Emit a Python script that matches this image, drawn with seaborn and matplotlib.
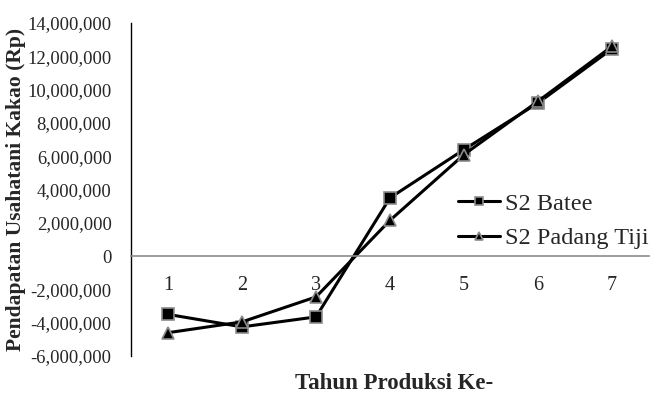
import numpy as np
import pandas as pd
import matplotlib
matplotlib.use("Agg")
import matplotlib.pyplot as plt
import seaborn as sns
from matplotlib.ticker import FuncFormatter

years = [1, 2, 3, 4, 5, 6, 7]
batee = [-3500000, -4250000, -3650000, 3500000, 6400000, 9200000, 12450000]
padang_tiji = [-4600000, -3950000, -2450000, 2150000, 6100000, 9300000, 12600000]
series_names = ["S2 Batee", "S2 Padang Tiji"]
y_ticks = list(range(-6000000, 14000001, 2000000))

sns.set_theme(style="white")
plt.rcParams['font.family'] = ['Liberation Serif', 'DejaVu Serif']

fig = plt.figure(figsize=(6.54, 3.94), dpi=100)
ax = fig.add_axes([0.2003, 0.0964, 0.7921, 0.8452])

df = pd.DataFrame({"Tahun": years * 2,
                   "Pendapatan": batee + padang_tiji,
                   "Lokasi": [series_names[0]] * 7 + [series_names[1]] * 7})

sns.lineplot(data=df, x="Tahun", y="Pendapatan", style="Lokasi",
             markers={series_names[0]: "s", series_names[1]: "^"},
             dashes=False, color="black", linewidth=2.2, markersize=8,
             markeredgecolor="#8c8c8c", markeredgewidth=1.2, ax=ax)

ax.set_xlim(0.5, 7.5)
ax.set_ylim(-6000000, 14000000)
ax.set_yticks(y_ticks)
ax.yaxis.set_major_formatter(FuncFormatter(lambda v, p: f"{int(v):,}"))
ax.tick_params(axis='y', length=0, labelsize=13.4, pad=14)
ax.set_xticks(years)
ax.tick_params(axis='x', length=0, labelsize=14.5, pad=14)

for s in ["top", "right"]:
    ax.spines[s].set_visible(False)
ax.spines["left"].set_color("black")
ax.spines["left"].set_linewidth(1.0)
ax.spines["bottom"].set_position(("data", 0))
ax.spines["bottom"].set_color("#8c8c8c")
ax.spines["bottom"].set_linewidth(1.2)

ax.set_ylabel("Pendapatan Usahatani Kakao (Rp)", fontsize=15.5, fontweight="bold", labelpad=1)
ax.set_xlabel("Tahun Produksi Ke-", fontsize=16.5, fontweight="bold")
ax.xaxis.set_label_coords(0.508, -0.05)

leg = ax.legend(loc="upper left", bbox_to_anchor=(0.631, 0.49), frameon=False,
                fontsize=17.5, labelspacing=0.5, handlelength=1.75, handletextpad=0.2,
                borderaxespad=0, borderpad=0)
for h in leg.legend_handles:
    h.set_markeredgecolor("#8c8c8c")
    h.set_markersize(6)

fig.savefig("out.png", dpi=100)
